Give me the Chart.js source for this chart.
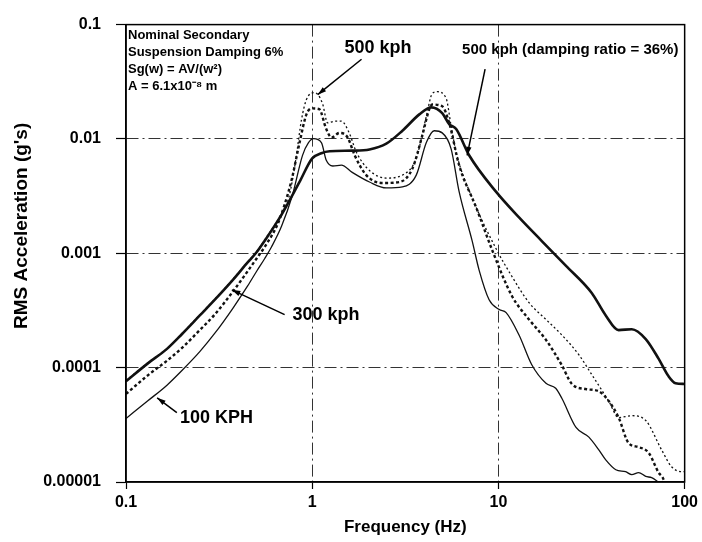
<!DOCTYPE html>
<html>
<head>
<meta charset="utf-8">
<title>RMS Acceleration vs Frequency</title>
<script src="https://cdn.jsdelivr.net/npm/chart.js@4.4.1/dist/chart.umd.min.js"></script>
<style>
  html, body { margin: 0; padding: 0; background: #fff; }
  #wrap { width: 702px; height: 542px; position: relative; }
</style>
</head>
<body>
<div id="wrap"><canvas id="rms-chart"></canvas></div>
<script>
// axis ticks
const freqTicks = [0.1, 1, 10, 100];
const freqTickLabels = ['0.1', '1', '10', '100'];
const accTicks = [0.00001, 0.0001, 0.001, 0.01, 0.1];
const accTickLabels = ['0.00001', '0.0001', '0.001', '0.01', '0.1'];

// 100 KPH (thin solid)
const freq100 = [0.1, 0.131, 0.166, 0.2, 0.249, 0.3, 0.374, 0.45, 0.503, 0.556, 0.605, 0.685, 0.784, 0.887, 0.955, 1.016, 1.12, 1.19, 1.29, 1.435, 1.64, 2.03, 2.5, 3.05, 3.62, 4.1, 4.52, 4.99, 5.57, 6.15, 7.22, 7.88, 8.91, 10.1, 11.0, 12.9, 15.1, 18.0, 20.3, 21.9, 26.1, 30.6, 34.6, 37.7, 42.7, 48.2, 52.0, 56.6, 61.8, 66.5, 72.4];
const acc100 = [3.59e-5, 5.13e-5, 7.03e-5, 9.46e-5, 1.38e-4, 2.0e-4, 3.29e-4, 5.18e-4, 6.97e-4, 9.01e-4, 1.14e-3, 1.73e-3, 3.25e-3, 7.18e-3, 9.27e-3, 0.01005, 9.3e-3, 6.5e-3, 5.8e-3, 5.9e-3, 5.1e-3, 4.2e-3, 3.73e-3, 3.81e-3, 4.83e-3, 9.3e-3, 0.0118, 0.0113, 8.2e-3, 3.46e-3, 1.29e-3, 7.1e-4, 3.93e-4, 3.22e-4, 3.03e-4, 1.93e-4, 1.06e-4, 7.3e-5, 6.6e-5, 5.4e-5, 3.0e-5, 2.47e-5, 1.91e-5, 1.56e-5, 1.28e-5, 1.23e-5, 1.16e-5, 1.21e-5, 1.12e-5, 1.09e-5, 1.0e-5];

// 300 kph (heavy dashes)
const freq300 = [0.1, 0.131, 0.166, 0.2, 0.249, 0.3, 0.374, 0.45, 0.503, 0.556, 0.652, 0.711, 0.775, 0.855, 0.931, 1.0, 1.09, 1.19, 1.27, 1.40, 1.55, 1.69, 1.95, 2.38, 2.94, 3.45, 3.90, 4.25, 4.41, 4.99, 5.44, 6.15, 7.59, 9.4, 11.8, 14.6, 18.0, 21.9, 24.8, 29.4, 34.6, 39.1, 44.2, 50.0, 56.6, 64.1, 72.4, 77.1, 79.0];
const acc300 = [5.89e-5, 8.57e-5, 1.15e-4, 1.49e-4, 2.13e-4, 2.92e-4, 4.6e-4, 6.97e-4, 9.01e-4, 1.14e-3, 1.8e-3, 2.67e-3, 4.38e-3, 9.27e-3, 0.0164, 0.0185, 0.0182, 0.0122, 0.0103, 0.0113, 0.0103, 7.2e-3, 4.83e-3, 4.12e-3, 4.2e-3, 5.5e-3, 0.0107, 0.0182, 0.0200, 0.0193, 0.0138, 5.9e-3, 2.52e-3, 1.0e-3, 4.25e-4, 2.64e-4, 1.75e-4, 1.05e-4, 7.2e-5, 6.5e-5, 6.2e-5, 5.1e-5, 3.66e-5, 2.19e-5, 2.02e-5, 1.8e-5, 1.21e-5, 1.05e-5, 9.0e-6];

// 500 kph, 6% damping (fine dots)
const freq500 = [0.1, 0.131, 0.166, 0.2, 0.249, 0.3, 0.374, 0.45, 0.5, 0.556, 0.686, 0.75, 0.815, 0.877, 0.931, 1.03, 1.135, 1.21, 1.32, 1.435, 1.58, 1.73, 2.03, 2.5, 3.05, 3.62, 4.1, 4.41, 4.69, 5.24, 5.57, 5.93, 7.22, 9.7, 11.8, 14.6, 18.0, 21.9, 27.0, 31.7, 39.1, 44.2, 52.0, 61.8, 75.2, 85.1, 96.4, 100];
const acc500 = [7.7e-5, 1.1e-4, 1.47e-4, 1.99e-4, 2.89e-4, 3.97e-4, 5.9e-4, 8.4e-4, 1.02e-3, 1.31e-3, 2.25e-3, 3.1e-3, 6.5e-3, 0.0149, 0.0221, 0.0254, 0.0205, 0.0138, 0.0143, 0.0143, 0.0113, 7.6e-3, 5.3e-3, 4.55e-3, 4.83e-3, 6.8e-3, 0.0158, 0.0249, 0.0259, 0.0226, 0.0130, 7.6e-3, 3.07e-3, 1.1e-3, 6.3e-4, 3.7e-4, 2.64e-4, 1.93e-4, 1.3e-4, 8.7e-5, 5.1e-5, 3.66e-5, 3.8e-5, 3.45e-5, 1.91e-5, 1.36e-5, 1.23e-5, 1.23e-5];

// 500 kph, damping ratio 36% (heavy solid)
const freq500d = [0.1, 0.131, 0.166, 0.2, 0.249, 0.3, 0.374, 0.45, 0.5, 0.556, 0.686, 0.855, 1.0, 1.12, 1.24, 1.64, 2.03, 2.5, 3.05, 3.76, 4.36, 4.99, 5.44, 5.93, 6.96, 9.7, 12.9, 17.1, 23.0, 31.7, 37.7, 44.2, 52.0, 61.8, 72.4, 82.0, 89.4, 100];
const acc500d = [7.61e-5, 1.09e-4, 1.46e-4, 1.97e-4, 2.86e-4, 3.93e-4, 5.83e-4, 8.32e-4, 1.01e-3, 1.29e-3, 2.19e-3, 4.21e-3, 6.76e-3, 7.5e-3, 7.8e-3, 7.9e-3, 8.1e-3, 9.1e-3, 0.0118, 0.0164, 0.0189, 0.0168, 0.0135, 0.0122, 7.2e-3, 3.46e-3, 2.06e-3, 1.28e-3, 7.8e-4, 4.5e-4, 2.86e-4, 2.13e-4, 2.17e-4, 1.78e-4, 1.2e-4, 8.4e-5, 7.3e-5, 7.2e-5];

// notes in data coordinates
const infoLines = ['Nominal Secondary', 'Suspension Damping 6%', 'Sg(w) = AV/(w\u00B2)', 'A = 6.1x10\u207B\u2078 m'];
const labelNotes = [
  { text: '500 kph', at: [1.49, 0.0618], size: 18 },
  { text: '500 kph (damping ratio = 36%)', at: [6.38, 0.0606], size: 15 },
  { text: '300 kph', at: [0.784, 2.86e-4], size: 18 },
  { text: '100 KPH', at: [0.195, 3.66e-5], size: 18 }
];
const arrowNotes = [
  { from: [1.84, 0.0498], to: [1.07, 0.0244] },
  { from: [8.48, 0.0408], to: [6.79, 0.00718] },
  { from: [0.711, 2.91e-4], to: [0.37, 4.79e-4] },
  { from: [0.1875, 4.05e-5], to: [0.147, 5.45e-5] }
];

const FAMILY = "'Liberation Sans', Arial, Helvetica, sans-serif";
const toPoints = (xs, ys) => xs.map((f, i) => ({ x: f, y: ys[i] }));

const overlay = {
  id: 'overlay',
  afterDraw(chart) {
    const { ctx, chartArea: a, scales: { x, y } } = chart;
    ctx.save();
    ctx.setLineDash([]);
    ctx.strokeStyle = '#000';
    ctx.lineWidth = 1.5;
    ctx.strokeRect(a.left, a.top, a.right - a.left, a.bottom - a.top);

    // y axis title
    ctx.save();
    ctx.translate(22, a.top + (a.bottom - a.top) * 0.44);
    ctx.rotate(-Math.PI / 2);
    ctx.fillStyle = '#000';
    ctx.font = 'bold 19px ' + FAMILY;
    ctx.textAlign = 'center';
    ctx.textBaseline = 'middle';
    ctx.fillText("RMS Acceleration (g's)", 0, 0);
    ctx.restore();

    // info block
    ctx.fillStyle = '#000';
    ctx.font = 'bold 13px ' + FAMILY;
    ctx.textAlign = 'left';
    ctx.textBaseline = 'middle';
    infoLines.forEach((t, i) => ctx.fillText(t, a.left + 2, a.top + 11 + i * 17));

    // labels
    labelNotes.forEach(n => {
      ctx.font = 'bold ' + n.size + 'px ' + FAMILY;
      ctx.fillText(n.text, x.getPixelForValue(n.at[0]), y.getPixelForValue(n.at[1]));
    });

    // arrows
    ctx.lineWidth = 1.5;
    arrowNotes.forEach(n => {
      const x0 = x.getPixelForValue(n.from[0]), y0 = y.getPixelForValue(n.from[1]);
      const x1 = x.getPixelForValue(n.to[0]), y1 = y.getPixelForValue(n.to[1]);
      const ang = Math.atan2(y1 - y0, x1 - x0);
      ctx.beginPath();
      ctx.moveTo(x0, y0);
      ctx.lineTo(x1, y1);
      ctx.stroke();
      ctx.beginPath();
      ctx.moveTo(x1, y1);
      ctx.lineTo(x1 - 9 * Math.cos(ang - 0.3), y1 - 9 * Math.sin(ang - 0.3));
      ctx.lineTo(x1 - 9 * Math.cos(ang + 0.3), y1 - 9 * Math.sin(ang + 0.3));
      ctx.closePath();
      ctx.fill();
    });
    ctx.restore();
  }
};

const ctx = document.getElementById('rms-chart');
const lineBase = { pointRadius: 0, borderColor: '#111', fill: false, cubicInterpolationMode: 'monotone' };

new Chart(ctx, {
  type: 'line',
  data: {
    datasets: [
      { ...lineBase, label: '100 KPH', data: toPoints(freq100, acc100), borderWidth: 1.3 },
      { ...lineBase, label: '300 kph', data: toPoints(freq300, acc300), borderWidth: 2.4, borderDash: [3, 2.5] },
      { ...lineBase, label: '500 kph', data: toPoints(freq500, acc500), borderWidth: 1.3, borderDash: [2, 2.5] },
      { ...lineBase, label: '500 kph (damping ratio = 36%)', data: toPoints(freq500d, acc500d), borderWidth: 2.6 }
    ]
  },
  options: {
    responsive: true,
    maintainAspectRatio: false,
    animation: false,
    layout: { padding: { top: 17, right: 16, left: 0, bottom: 0 } },
    plugins: {
      legend: { display: false },
      tooltip: { enabled: false }
    },
    scales: {
      x: {
        type: 'logarithmic',
        min: 0.1,
        max: 100,
        afterBuildTicks: s => { s.ticks = freqTicks.map(v => ({ value: v })); },
        afterFit: s => { s.height = 60; },
        ticks: {
          callback: v => freqTickLabels[freqTicks.indexOf(v)],
          color: '#000',
          font: { family: FAMILY, size: 16, weight: 'bold' },
          padding: 4,
          autoSkip: false,
          maxRotation: 0
        },
        grid: {
          color: c => (c.tick && (c.tick.value === 1 || c.tick.value === 10)) ? '#333' : 'rgba(0,0,0,0)',
          lineWidth: 1,
          tickLength: 7,
          tickColor: '#000',
          tickWidth: 1.2,
          tickBorderDash: []
        },
        border: { color: '#000', width: 1.5, dash: [12, 4, 2, 4] },
        title: {
          display: true,
          text: 'Frequency (Hz)',
          color: '#000',
          font: { family: FAMILY, size: 17, weight: 'bold' },
          padding: { top: 0, bottom: 4 }
        }
      },
      y: {
        type: 'logarithmic',
        min: 0.00001,
        max: 0.1,
        afterBuildTicks: s => { s.ticks = accTicks.map(v => ({ value: v })); },
        afterFit: s => { s.width = 126; },
        ticks: {
          callback: v => accTickLabels[accTicks.indexOf(v)],
          color: '#000',
          font: { family: FAMILY, size: 16, weight: 'bold' },
          padding: 15,
          autoSkip: false
        },
        grid: {
          color: c => (c.tick && c.tick.value > 0.00005 && c.tick.value < 0.05) ? '#333' : 'rgba(0,0,0,0)',
          lineWidth: 1,
          tickLength: 10,
          tickColor: '#000',
          tickWidth: 1.2,
          tickBorderDash: []
        },
        border: { color: '#000', width: 1.5, dash: [12, 4, 2, 4] }
      }
    }
  },
  plugins: [overlay]
});
</script>
</body>
</html>
